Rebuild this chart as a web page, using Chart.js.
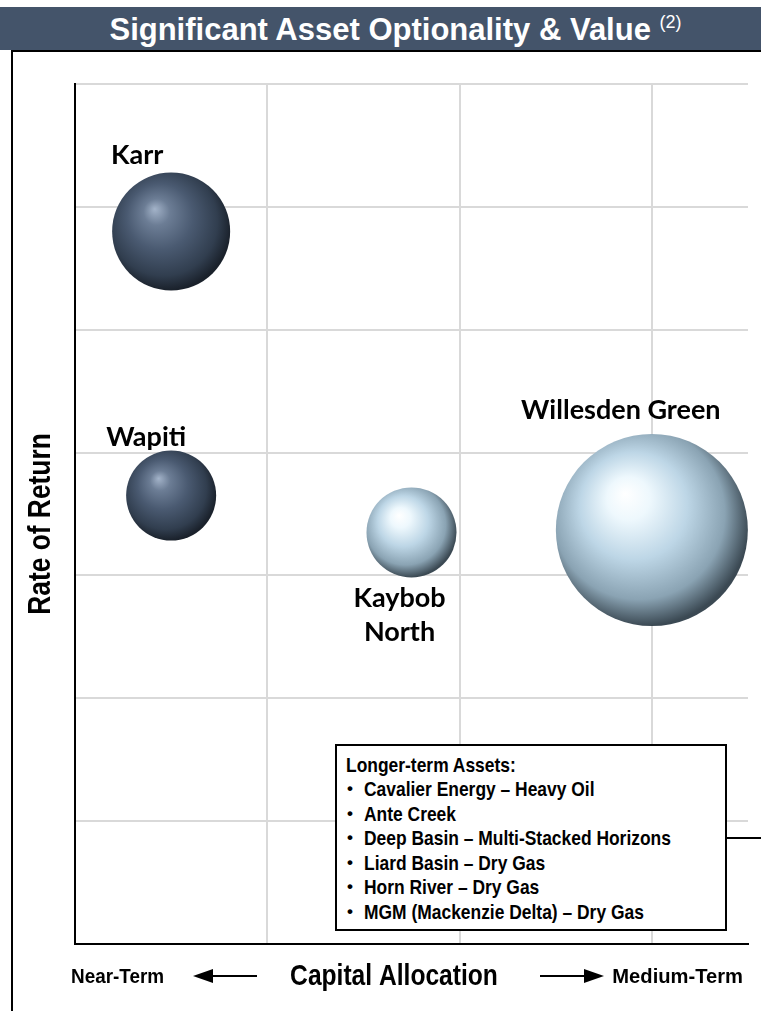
<!DOCTYPE html>
<html>
<head>
<meta charset="utf-8">
<title>Significant Asset Optionality &amp; Value</title>
<script src="https://cdn.jsdelivr.net/npm/chart.js@4.4.0/dist/chart.umd.min.js"></script>
<style>
  html, body { margin: 0; padding: 0; background: #fff; }
  .page { position: relative; width: 761px; height: 1011px; overflow: hidden; }
  .header {
    position: absolute; left: 0; top: 7px; width: 761px; height: 43px;
    background: #44546a; color: #fff;
    font: bold 31px "Liberation Sans", Arial, sans-serif;
    line-height: 46px; text-align: center; padding-left: 30px; box-sizing: border-box;
  }
  .header sup { font-size: 18px; font-weight: normal; vertical-align: 12px; line-height: 0; }
  .frame {
    position: absolute; left: 11px; top: 50px; width: 800px; height: 1000px;
    border-left: 2px solid #000; border-top: 2px solid #000;
  }
  canvas { position: absolute; left: 0; top: 0; }
  .legend-box {
    position: absolute; left: 335px; top: 744px; width: 388px; height: 183px;
    border: 2px solid #000; background: #fff;
    font: bold 20.5px "Liberation Sans", Arial, sans-serif; color: #000;
  }
  .legend-box .row { position: absolute; left: 0; height: 24px; line-height: 24px; white-space: nowrap; }
  .legend-box .txt { display: inline-block; transform: scaleX(0.85); transform-origin: left center; }
  .legend-box .bullet { position: absolute; left: 10px; top: 0; font-size: 17px; }
  .connector { position: absolute; left: 725px; top: 837px; width: 40px; height: 2px; background: #000; }
</style>
</head>
<body>
<div class="page">
  <div class="header">Significant Asset Optionality &amp; Value <sup>(2)</sup></div>
  <div class="frame"></div>
  <canvas id="assetChart" width="761" height="1011"></canvas>
  <div class="connector"></div>
  <div class="legend-box" id="longTermBox"></div>
</div>
<script>
'use strict';

// Asset positions: x = development timing, y = relative rate of return
const assetNames = ['Karr', 'Wapiti', 'Kaybob North', 'Willesden Green'];
const timing = [0.5, 0.5, 1.75, 3.0];
const rateOfReturn = [5.8, 3.65, 3.35, 3.37];
const assetScale = [59, 45, 45, 96];

const longTermTitle = 'Longer-term Assets:';
const longTermAssets = [
  'Cavalier Energy \u2013 Heavy Oil',
  'Ante Creek',
  'Deep Basin \u2013 Multi-Stacked Horizons',
  'Liard Basin \u2013 Dry Gas',
  'Horn River \u2013 Dry Gas',
  'MGM (Mackenzie Delta) \u2013 Dry Gas',
];

// Quadrant grid lines
const xTicks = [0, 1, 2, 3];
const yTicks = [0, 1, 2, 3, 4, 5, 6, 7];

// Shading per bubble: dark slate for the established plays, pale blue for the rest
const sphereTone = ['dark', 'dark', 'light', 'light'];
const sphereStops = {
  dark: [[0, '#a3b3c9'], [0.2, '#6c7d95'], [0.5, '#4a5a71'], [0.82, '#313e4f'], [1, '#1a212b']],
  light: [[0, '#ffffff'], [0.2, '#eef8fd'], [0.5, '#bdd6e6'], [0.8, '#8aa3b3'], [1, '#3b4953']],
};

// Label anchors relative to each bubble centre: [dx, dy] in px
const labelPlacement = [[-34, -76], [-25, -58], [-12, 66], [-31, -120]];

const NARROW = 0.82;
const SANS = '"Liberation Sans", Arial, sans-serif';

// Legend box rows
const box = document.getElementById('longTermBox');
const rows = [`<div class="row" style="top:7px;left:9px"><span class="txt">${longTermTitle}</span></div>`];
longTermAssets.forEach((t, i) => {
  rows.push(`<div class="row" style="top:${31 + i * 24.6}px;left:0;width:380px">` +
    `<span class="bullet">\u2022</span><span class="txt" style="margin-left:27px">${t}</span></div>`);
});
box.innerHTML = rows.join('');

function sphereFill(context) {
  const chart = context.chart;
  const raw = context.raw;
  if (!raw || !chart.chartArea) return '#44546a';
  const cx = chart.scales.x.getPixelForValue(raw.x);
  const cy = chart.scales.y.getPixelForValue(raw.y);
  const r = raw.r;
  const g = chart.ctx.createRadialGradient(
    cx - r * 0.28, cy - r * 0.38, 0,
    cx - r * 0.1, cy - r * 0.12, r * 1.12
  );
  sphereStops[sphereTone[context.dataIndex]].forEach(([o, c]) => g.addColorStop(o, c));
  return g;
}

function narrowText(ctx, text, x, y, align, font, sx) {
  ctx.save();
  ctx.translate(x, y);
  ctx.scale(sx, 1);
  ctx.font = font;
  ctx.textAlign = align;
  ctx.fillText(text, 0, 0);
  ctx.restore();
}

function drawArrow(ctx, x1, x2, y) {
  const dir = Math.sign(x2 - x1);
  ctx.beginPath();
  ctx.moveTo(x1, y);
  ctx.lineTo(x2 - dir * 12, y);
  ctx.stroke();
  ctx.beginPath();
  ctx.moveTo(x2, y);
  ctx.lineTo(x2 - dir * 20, y - 7);
  ctx.lineTo(x2 - dir * 20, y + 7);
  ctx.closePath();
  ctx.fill();
}

// Bubble names plus the axis captions around the plot
const annotations = {
  id: 'annotations',
  afterDatasetsDraw(chart) {
    const ctx = chart.ctx;
    const meta = chart.getDatasetMeta(0);
    ctx.save();
    ctx.fillStyle = '#000';
    ctx.textAlign = 'center';
    ctx.textBaseline = 'middle';
    ctx.font = 'bold 27px Lato, "Open Sans", sans-serif';
    meta.data.forEach((pt, i) => {
      const [dx, dy] = labelPlacement[i];
      const words = assetNames[i] === 'Kaybob North' ? ['Kaybob', 'North'] : [assetNames[i]];
      words.forEach((w, k) => ctx.fillText(w, pt.x + dx, pt.y + dy + k * 34));
    });
    ctx.restore();
  },
  afterDraw(chart) {
    const ctx = chart.ctx;
    ctx.save();
    ctx.fillStyle = '#000';
    ctx.strokeStyle = '#000';
    ctx.lineWidth = 2;
    ctx.textBaseline = 'middle';

    // y axis caption
    ctx.save();
    ctx.translate(41, 524);
    ctx.rotate(-Math.PI / 2);
    narrowText(ctx, 'Rate of Return', 0, 0, 'center', 'bold 31px ' + SANS, 0.85);
    ctx.restore();

    // x axis caption with direction arrows
    const y = 977;
    narrowText(ctx, 'Capital Allocation', 394, y, 'center', 'bold 30px ' + SANS, NARROW);
    narrowText(ctx, 'Near-Term', 71, y, 'left', 'bold 21px ' + SANS, 0.9);
    narrowText(ctx, 'Medium-Term', 743, y, 'right', 'bold 21px ' + SANS, 0.96);
    drawArrow(ctx, 257, 193, y - 1);
    drawArrow(ctx, 540, 604, y - 1);
    ctx.restore();
  },
};

new Chart(document.getElementById('assetChart'), {
  type: 'bubble',
  data: {
    datasets: [{
      label: 'Assets',
      data: assetNames.map((n, i) => ({ x: timing[i], y: rateOfReturn[i], r: assetScale[i] })),
      backgroundColor: sphereFill,
      borderWidth: 0,
      clip: false,
    }],
  },
  options: {
    responsive: false,
    animation: false,
    layout: { autoPadding: false, padding: { left: 75, top: 84, right: 13, bottom: 67 } },
    plugins: { legend: { display: false }, tooltip: { enabled: false } },
    scales: {
      x: {
        type: 'linear', min: 0, max: 3.5,
        afterBuildTicks: s => { s.ticks = xTicks.map(v => ({ value: v })); },
        ticks: { display: false },
        grid: { color: '#d9d9d9', lineWidth: 2, drawTicks: false },
        border: { color: '#000', width: 2 },
      },
      y: {
        type: 'linear', min: 0, max: 7,
        afterBuildTicks: s => { s.ticks = yTicks.map(v => ({ value: v })); },
        ticks: { display: false },
        grid: { color: '#d9d9d9', lineWidth: 2, drawTicks: false },
        border: { color: '#000', width: 2 },
      },
    },
  },
  plugins: [annotations],
});
</script>
</body>
</html>
